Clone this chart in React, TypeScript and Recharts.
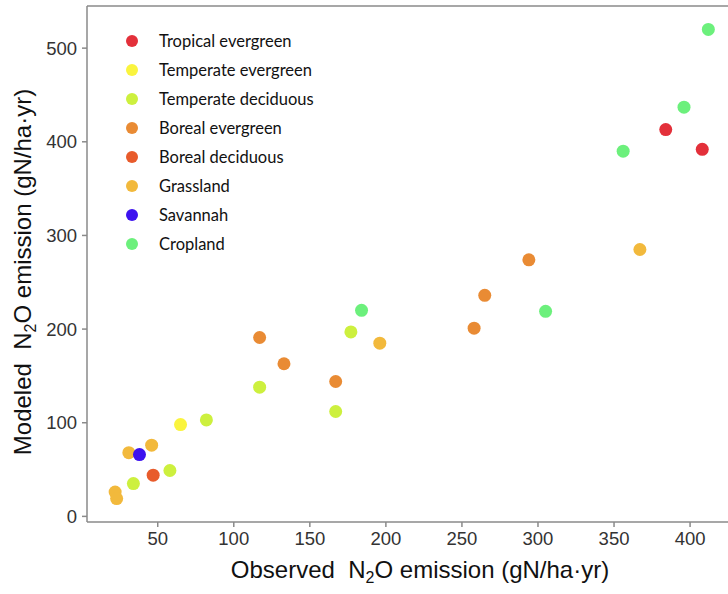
import { ScatterChart, Scatter, XAxis, YAxis, Legend, ReferenceLine } from 'recharts'

type Pt = { x: number; y: number }

// observed (x) vs modeled (y) N2O emission, gN/ha·yr
const tropicalEvergreen: Pt[] = [
  { x: 384, y: 413 },
  { x: 408, y: 392 },
]
const temperateEvergreen: Pt[] = [{ x: 65, y: 98 }]
const temperateDeciduous: Pt[] = [
  { x: 177, y: 197 },
  { x: 117, y: 138 },
  { x: 167, y: 112 },
  { x: 82, y: 103 },
  { x: 58, y: 49 },
  { x: 34, y: 35 },
]
const borealEvergreen: Pt[] = [
  { x: 294, y: 274 },
  { x: 265, y: 236 },
  { x: 258, y: 201 },
  { x: 117, y: 191 },
  { x: 133, y: 163 },
  { x: 167, y: 144 },
]
const borealDeciduous: Pt[] = [{ x: 47, y: 44 }]
const grassland: Pt[] = [
  { x: 367, y: 285 },
  { x: 196, y: 185 },
  { x: 46, y: 76 },
  { x: 31, y: 68 },
  { x: 22, y: 26 },
  { x: 23, y: 19 },
]
const savannah: Pt[] = [{ x: 38, y: 66 }]
const cropland: Pt[] = [
  { x: 412, y: 520 },
  { x: 396, y: 437 },
  { x: 356, y: 390 },
  { x: 305, y: 219 },
  { x: 184, y: 220 },
]

const series = [
  { name: 'Tropical evergreen', color: '#e3303a', data: tropicalEvergreen },
  { name: 'Temperate evergreen', color: '#faf43e', data: temperateEvergreen },
  { name: 'Temperate deciduous', color: '#cdf03e', data: temperateDeciduous },
  { name: 'Boreal evergreen', color: '#e98b34', data: borealEvergreen },
  { name: 'Boreal deciduous', color: '#e85b2b', data: borealDeciduous },
  { name: 'Grassland', color: '#f2b93c', data: grassland },
  { name: 'Savannah', color: '#3d12ef', data: savannah },
  { name: 'Cropland', color: '#6cf07c', data: cropland },
]

const xTicks = [50, 100, 150, 200, 250, 300, 350, 400]
const yTicks = [0, 100, 200, 300, 400, 500]
const xDomain = [3.5, 431.5]
const yDomain = [-6, 545]

const axisColor = '#8a8a8a'
const tickFont = { fontFamily: 'Liberation Sans, Arial, sans-serif', fontSize: 18.5, fill: '#333' }
const titleFont = 'Liberation Sans, Arial, sans-serif'

const dot = (color: string) => (props: any) =>
  <circle cx={props.cx} cy={props.cy} r={6.5} fill={color} />

function LegendBox() {
  return (
    <div style={{ fontFamily: 'Lato, sans-serif', fontSize: 16.5, color: '#111' }}>
      {series.map((s) => (
        <div key={s.name} style={{ display: 'flex', alignItems: 'center', height: 29.1 }}>
          <span style={{ width: 12, height: 12, borderRadius: '50%', background: s.color, marginRight: 21 }} />
          {s.name}
        </div>
      ))}
    </div>
  )
}

function XTitle() {
  return (
    <text x={420} y={578} textAnchor="middle" fontFamily={titleFont} fontSize={24} fill="#111">
      Observed{'\u00a0 '}N<tspan fontSize={16} dy={5}>2</tspan><tspan dy={-5}>O emission (gN/ha·yr)</tspan>
    </text>
  )
}

function YTitle() {
  return (
    <text x={31} y={272} transform="rotate(-90, 31, 272)" textAnchor="middle" fontFamily={titleFont} fontSize={24} fill="#111">
      Modeled{'\u00a0 '}N<tspan fontSize={16} dy={5}>2</tspan><tspan dy={-5}>O emission (gN/ha·yr)</tspan>
    </text>
  )
}

export default function App() {
  return (
    <div style={{ position: 'absolute', left: 0, top: 0, width: 728, height: 594, overflow: 'hidden', background: '#fff' }}>
      <ScatterChart width={748} height={594} margin={{ top: 6, right: 10, bottom: 0, left: 0 }}>
        <XAxis
          type="number"
          dataKey="x"
          domain={xDomain}
          ticks={xTicks}
          allowDataOverflow
          height={72}
          stroke={axisColor}
          strokeWidth={1.5}
          tickSize={5}
          tickMargin={5}
          tick={tickFont}
          label={<XTitle />}
        />
        <YAxis
          type="number"
          dataKey="y"
          domain={yDomain}
          ticks={yTicks}
          allowDataOverflow
          width={87}
          stroke={axisColor}
          strokeWidth={1.5}
          tickSize={5}
          tickMargin={5}
          tick={tickFont}
          label={<YTitle />}
        />
        <ReferenceLine y={yDomain[1]} stroke={axisColor} strokeWidth={1.5} />
        <Legend
          layout="vertical"
          align="center"
          verticalAlign="middle"
          content={() => <LegendBox />}
          wrapperStyle={{ left: 126, top: 26, width: 'auto' }}
        />
        {series.map((s) => (
          <Scatter
            key={s.name}
            name={s.name}
            data={s.data}
            fill={s.color}
            shape={dot(s.color)}
            isAnimationActive={false}
          />
        ))}
      </ScatterChart>
    </div>
  )
}
